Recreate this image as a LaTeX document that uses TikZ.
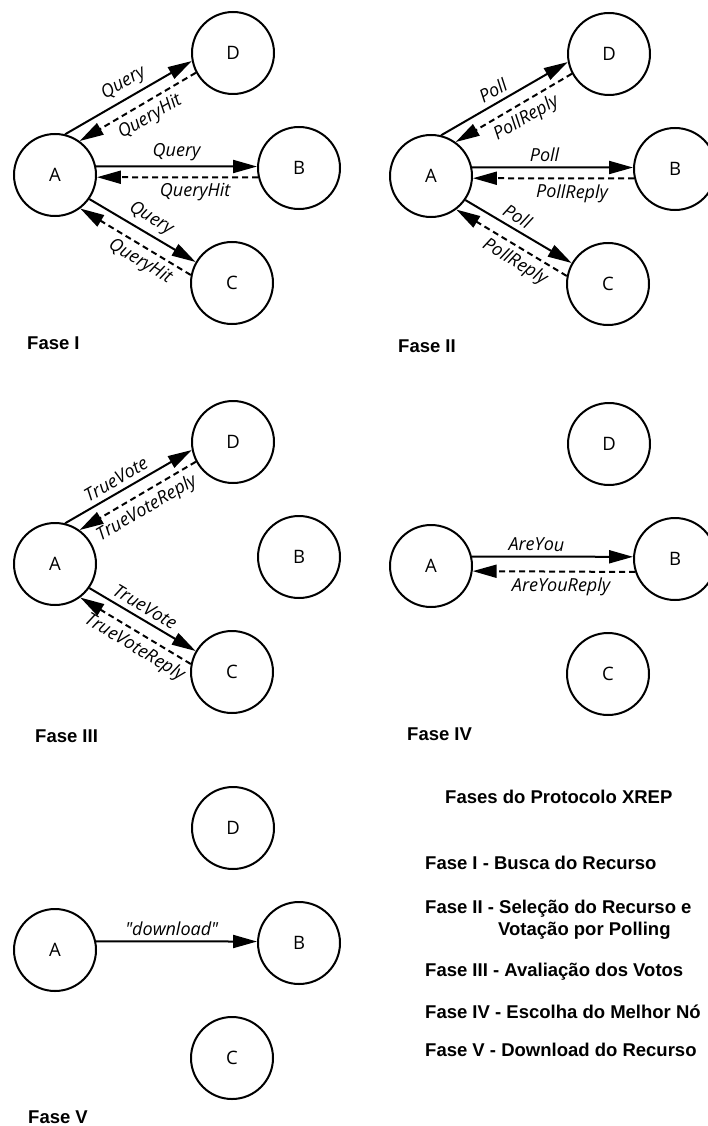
\documentclass[tikz,border=0pt]{standalone}
\usepackage{fontspec}
\setmainfont{Liberation Sans}
\newfontfamily\nodefont{Open Sans}
\usetikzlibrary{arrows.meta}

\tikzset{
  peer/.style={circle, draw, line width=2pt, minimum size=82pt, inner sep=0pt,
    font=\nodefont\fontsize{18.5}{22}\selectfont},
  msg/.style={line width=2pt, -{Triangle[length=24pt,width=13pt]}},
  reply/.style={msg, dash pattern=on 6pt off 4pt},
  lbl/.style={font=\nodefont\itshape\fontsize{18}{21}\selectfont, sloped, inner sep=4pt},
  phase/.style={anchor=base west, inner sep=0pt,
    font=\bfseries\fontsize{18.5}{22}\selectfont},
}

% the four peers of one phase, named A<n>, B<n>, C<n>, D<n>
\newcommand\peers[1]{%
  \node[peer] (A#1) at (55,175) {A};
  \node[peer] (D#1) at (233,53) {D};
  \node[peer] (B#1) at (299,168) {B};
  \node[peer] (C#1) at (232,283) {C};
}

\begin{document}
\begin{tikzpicture}[x=1pt, y=-1pt]
\useasboundingbox (0,0) rectangle (707,1126);

% Phase I: query
\begin{scope}
  \peers{1}
  \draw[msg] (A1.76) -- node[lbl, above=1pt, pos=.52] {Query} (D1.191);
  \draw[reply] (D1.208) -- node[lbl, below=1.5pt, pos=.46] {QueryHit} (A1.54);
  \draw[msg] (A1.12) -- node[lbl, above=0.5pt, pos=.5] {Query} (B1.178);
  \draw[reply] (B1.193) -- node[lbl, below=1pt, pos=.39] {QueryHit} (A1.-3);
  \draw[msg] (A1.-35.5) -- node[lbl, above=1pt, pos=.51] {Query} (C1.150);
  \draw[reply] (C1.169) -- node[lbl, below=1pt, pos=.39] {QueryHit} (A1.-53);
  \node[phase] (f1) at (27,349) {Fase I};
\end{scope}

% Phase II: poll
\begin{scope}[shift={(376,1)}]
  \peers{2}
  \draw[msg] (A2.76) -- node[lbl, above=1pt, pos=.46] {Poll} (D2.191);
  \draw[reply] (D2.208) -- node[lbl, below=1.5pt, pos=.46] {PollReply} (A2.54);
  \draw[msg] (A2.12) -- node[lbl, above=0.5pt, pos=.45] {Poll} (B2.178);
  \draw[reply] (B2.193) -- node[lbl, below=1pt, pos=.385] {PollReply} (A2.-3);
  \draw[msg] (A2.-35.5) -- node[lbl, above=1pt, pos=.43] {Poll} (C2.150);
  \draw[reply] (C2.169) -- node[lbl, below=1pt, pos=.40] {PollReply} (A2.-53);
\end{scope}
\node[phase] (f2) at (398,352) {Fase II};

% Phase III: vote evaluation
\begin{scope}[shift={(0,389)}]
  \peers{3}
  \draw[msg] (A3.76) -- node[lbl, above=1pt, pos=.45] {TrueVote} (D3.191);
  \draw[reply] (D3.208) -- node[lbl, below=1.5pt, pos=.49] {TrueVoteReply} (A3.54);
  \draw[msg] (A3.-35.5) -- node[lbl, above=1pt, pos=.465] {TrueVote} (C3.150);
  \draw[reply] (C3.169) -- node[lbl, below=1pt, pos=.44] {TrueVoteReply} (A3.-53);
\end{scope}
\node[phase] (f3) at (35,742) {Fase III};

% Phase IV: choice of the best node
\begin{scope}[shift={(376,391)}]
  \peers{4}
  \draw[msg] (A4.13.8) -- node[lbl, above=0.5pt, pos=.40] {AreYou} (B4.177.5);
  \draw[reply] (B4.198) -- node[lbl, below=1pt, pos=.455] {AreYouReply} (A4.-7);
\end{scope}
\node[phase] (f4) at (407,740) {Fase IV};

% Phase V: download
\begin{scope}[shift={(0,775)}]
  \peers{5}
  \draw[msg] (A5.12) -- node[lbl, above=0.5pt, pos=.47] {"download"} (B5.178);
\end{scope}
\node[phase] (f5) at (28,1123) {Fase V};

% legend
\node[phase] (title) at (445,803) {Fases do Protocolo XREP};
\node[phase] (l1) at (425,869) {Fase I - Busca do Recurso};
\node[phase] (l2) at (425,913) {Fase II - Seleção do Recurso e};
\node[phase] (l2b) at (498,935) {Votação por Polling};
\node[phase] (l3) at (425,976) {Fase III - Avaliação dos Votos};
\node[phase] (l4) at (425,1018) {Fase IV - Escolha do Melhor Nó};
\node[phase] (l5) at (425,1056) {Fase V - Download do Recurso};
\end{tikzpicture}
\end{document}
